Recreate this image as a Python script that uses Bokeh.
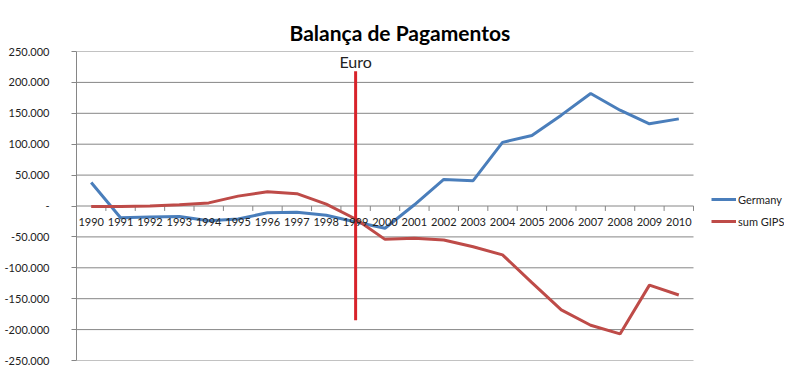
from bokeh.plotting import figure
from bokeh.models import ColumnDataSource, Range1d, FixedTicker, Legend, LegendItem
from bokeh.core.properties import value
from bokeh.embed import file_html
from bokeh.resources import INLINE

# ---- data (thousands) ----
years = list(range(1990, 2011))
germany = [38, -19, -18, -17, -24, -21, -11, -10, -15, -26, -36, 2, 43, 41, 103, 114, 147, 182, 155, 133, 141]
sum_gips = [-1, -1, 0, 2, 5, 16, 23, 20, 3, -21, -54, -52, -55, -66, -79, -124, -168, -193, -207, -128, -144]
y_ticks = [-250, -200, -150, -100, -50, 0, 50, 100, 150, 200, 250]
euro_year = 1999
euro_top = 218
euro_bottom = -185

def fmt(t):
    if t == 0:
        return "-"
    return f"{t}.000"

FONT = "Lato"
GRID = "#868686"

x_lo = years[0] - 0.5
x_hi = years[-1] + 0.5
# frame extends to the right edge so the legend can sit there
x_end = x_lo + (x_hi - x_lo) * (784 - 76) / (693 - 76)

p = figure(width=784, height=367, x_range=Range1d(x_lo, x_end), y_range=Range1d(-250, 250),
           output_backend="svg", toolbar_location=None,
           min_border_left=76, min_border_right=0, min_border_top=51, min_border_bottom=7)
p.outline_line_color = None
p.background_fill_color = "white"

p.title.text = "Balança de Pagamentos"
p.title.align = "left"
p.title.offset = 213
p.title.standoff = 10
p.title.vertical_align = "top"
p.title.text_font = FONT
p.title.text_font_size = "21px"
p.title.text_font_style = "bold"
p.title.text_color = "black"

# y axis
p.yaxis.ticker = FixedTicker(ticks=y_ticks)
p.yaxis.major_label_overrides = {t: fmt(t) for t in y_ticks}
p.yaxis.major_label_text_font = FONT
p.yaxis.major_label_text_font_size = "11px"
p.yaxis.major_label_text_color = "#222222"
p.yaxis.axis_line_color = GRID
p.yaxis.major_tick_line_color = GRID
p.yaxis.major_tick_out = 5
p.yaxis.major_tick_in = 0
p.yaxis.major_label_standoff = 22
p.yaxis.minor_tick_line_color = None
p.ygrid.grid_line_color = None
p.xgrid.grid_line_color = None

# horizontal gridlines over the category span only
p.segment(x0=[x_lo] * len(y_ticks), x1=[x_hi] * len(y_ticks), y0=y_ticks, y1=y_ticks,
          line_color=GRID, line_width=1)

# x axis at zero
p.xaxis.fixed_location = 0
p.xaxis.ticker = FixedTicker(ticks=years)
p.xaxis.axis_line_color = None
p.xaxis.major_tick_line_color = None
p.xaxis.minor_tick_line_color = None
p.xaxis.major_label_text_font = FONT
p.xaxis.major_label_text_font_size = "11px"
p.xaxis.major_label_text_color = "#222222"
p.xaxis.major_label_standoff = 6

# boundary tick marks
bx = [y - 0.5 for y in years] + [x_hi]
p.segment(x0=bx, x1=bx, y0=[0] * len(bx), y1=[-8] * len(bx), line_color=GRID, line_width=1)

src = ColumnDataSource(dict(x=years, g=germany, s=sum_gips))
rg = p.line("x", "g", source=src, line_color="#4a7ebb", line_width=3)
rs = p.line("x", "s", source=src, line_color="#be4b48", line_width=3)

# Euro marker
p.segment(x0=[euro_year], x1=[euro_year], y0=[euro_bottom], y1=[euro_top], line_color="#d8232a", line_width=3)
p.text(x=[euro_year], y=[euro_top + 1], text=["Euro"], text_align="center", text_baseline="bottom",
       text_font=value(FONT), text_font_size="16px", text_color="#222222")

legend = Legend(items=[LegendItem(label="Germany", renderers=[rg]), LegendItem(label="sum GIPS", renderers=[rs])],
                location=(635, 129), glyph_width=25, glyph_height=20, spacing=2, label_standoff=2,
                label_text_font=FONT, label_text_font_size="11px", label_text_color="#222222",
                border_line_color=None, background_fill_alpha=0, padding=0, margin=0)
p.add_layout(legend)

open("out.html", "w").write(file_html(p, INLINE))
